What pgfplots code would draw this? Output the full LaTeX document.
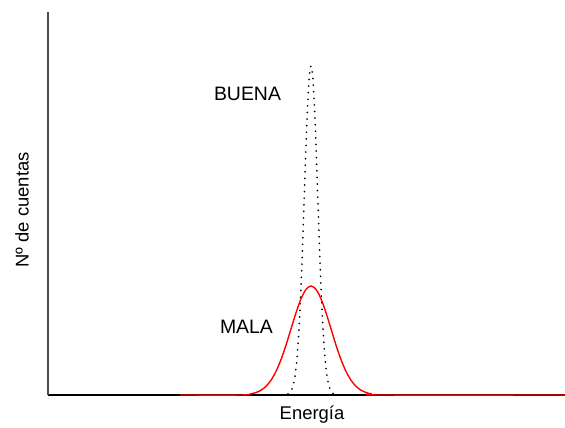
\documentclass[border=0pt]{standalone}
\usepackage{pgfplots}
\pgfplotsset{compat=1.18}
\usepackage{fontspec}
\setmainfont{Liberation Sans}
\begin{document}
\begin{tikzpicture}[x=1bp,y=1bp]
\useasboundingbox (0,0) rectangle (565,427);
\begin{axis}[
  at={(48bp,32bp)}, anchor=origin,
  scale only axis, width=517bp, height=383bp,
  xmin=48, xmax=565, ymin=0, ymax=383,
  axis x line=bottom, axis y line=left,
  axis line style={-, line width=1.2bp},
  y axis line style={draw=black!70},
  x axis line style={draw=black},
  xtick=\empty, ytick=\empty,
  clip=false,
]
\addplot[black, line width=1.8bp, dash pattern=on 0.1bp off 6.5bp, line cap=round, smooth] coordinates {
(180,0) (280,0) (286,0.3) (289,1.5) (291,3.8) (293,8.9) (295,19.0) (297,37.1) (299,66.2) (301,108.0) (303,161.3) (305,220.4) (307,275.3) (309,314.7) (311,329)
(313,314.7) (315,275.3) (317,220.4) (319,161.3) (321,108.0) (323,66.2) (325,37.1) (327,19.0) (329,8.9) (331,3.8) (333,1.5) (336,0.3) (342,0) (565,0)};
\addplot[red, line width=1.4bp, smooth] coordinates {
(180,0) (241,0) (251,1.2) (256,2.5) (261,4.8) (266,8.7) (271,14.8) (276,23.6) (281,35.4) (286,49.9) (291,66.1) (296,82.3) (301,96.2) (306,105.6) (311,109)
(316,105.6) (321,96.2) (326,82.3) (331,66.1) (336,49.9) (341,35.4) (346,23.6) (351,14.8) (356,8.7) (361,4.8) (366,2.5) (371,1.2) (381,0) (565,0)};
\end{axis}
\node[font=\fontsize{19.5}{22}\selectfont] at (247.5,333) {BUENA};
\node[font=\fontsize{19.5}{22}\selectfont] at (246.5,100) {MALA};
\node[font=\fontsize{18.5}{21}\selectfont] at (312,12) {Energía};
\node[font=\fontsize{18.5}{21}\selectfont, rotate=90] at (22,217) {Nº de cuentas};
\end{tikzpicture}
\end{document}
